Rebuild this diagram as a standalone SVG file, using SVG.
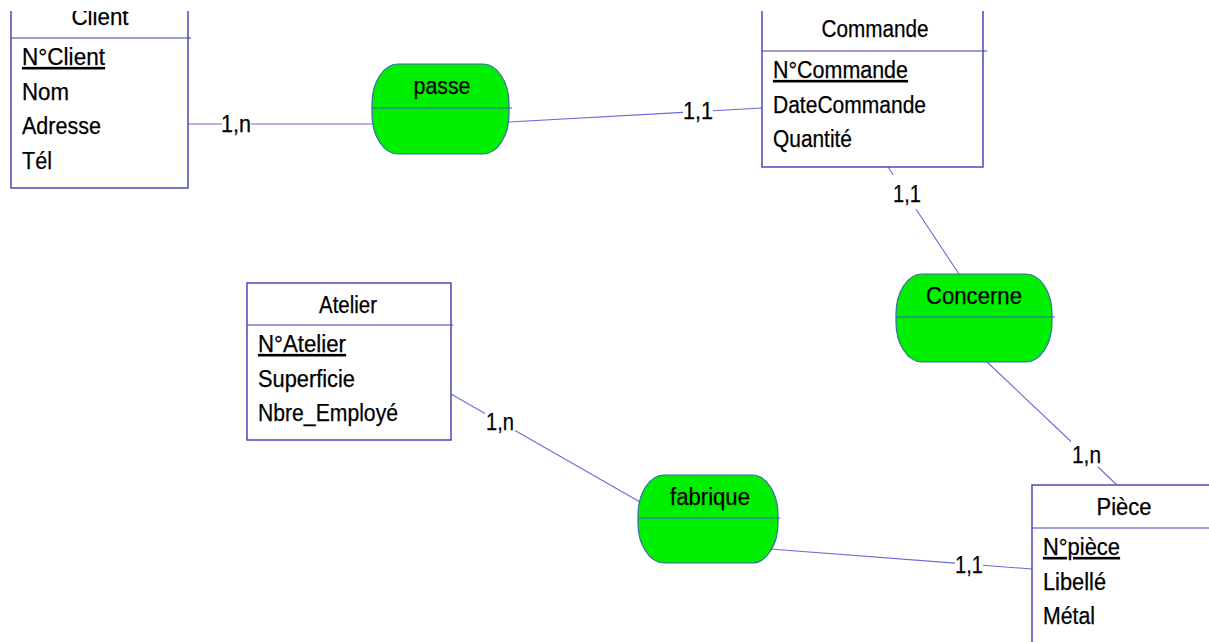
<svg xmlns="http://www.w3.org/2000/svg" width="1209" height="642" viewBox="0 0 1209 642">
<defs>
<clipPath id="view"><rect x="0" y="11" width="1209" height="631"/></clipPath>
<style>
text{font-family:"Liberation Sans",Arial,sans-serif;font-size:23px;fill:#000;stroke:#000;stroke-width:0.25}
.t{text-anchor:middle}
.k{text-decoration:underline}
.box{fill:#fff;stroke:#3d3db5;stroke-width:1.4}
.sep{stroke:#3d3db5;stroke-width:1.2}
.rel{fill:#00ee00;stroke:#3a6aa8;stroke-width:1.2}
.mid{stroke:#3d5fb8;stroke-width:1.2}
.cn{fill:none;stroke:#6a6ad8;stroke-width:1.1}
</style>
</defs>
<rect width="1209" height="642" fill="#fff"/>
<g clip-path="url(#view)">
<g id="connectors">
<path class="cn" d="M188,124 L222,124 M251,124 L372,124"/>
<text x="221" y="132" textLength="30" lengthAdjust="spacingAndGlyphs">1,n</text>
<path class="cn" d="M509,122 L683,112.4 M713,110.7 L762,108"/>
<text x="683" y="119" textLength="30" lengthAdjust="spacingAndGlyphs">1,1</text>
<path class="cn" d="M888,167 L893.3,175 M915.9,209 L959,274"/>
<text x="893" y="202" textLength="28" lengthAdjust="spacingAndGlyphs">1,1</text>
<path class="cn" d="M987,362 L1071,441.5 M1098,467 L1117,485"/>
<text x="1072" y="463" textLength="29" lengthAdjust="spacingAndGlyphs">1,n</text>
<path class="cn" d="M451,394 L485,413.4 M515,430.6 L640,502"/>
<text x="486" y="430" textLength="28" lengthAdjust="spacingAndGlyphs">1,n</text>
<path class="cn" d="M770,549 L955,563.1 M983,565.3 L1032,569"/>
<text x="955" y="573" textLength="28" lengthAdjust="spacingAndGlyphs">1,1</text>
</g>
<g id="client">
<rect class="box" x="11" y="-5" width="177" height="193"/>
<line class="sep" x1="11" y1="38" x2="191" y2="38"/>
<text class="t" x="100" y="25" textLength="57" lengthAdjust="spacingAndGlyphs">Client</text>
<text class="k" x="22" y="65" textLength="83" lengthAdjust="spacingAndGlyphs">N°Client</text>
<text x="22" y="99.5" textLength="47" lengthAdjust="spacingAndGlyphs">Nom</text>
<text x="22" y="134" textLength="79" lengthAdjust="spacingAndGlyphs">Adresse</text>
<text x="22" y="168.5" textLength="30" lengthAdjust="spacingAndGlyphs">Tél</text>
</g>
<g id="commande">
<rect class="box" x="762" y="8" width="221" height="159"/>
<line class="sep" x1="762" y1="51" x2="987" y2="51"/>
<text class="t" x="875" y="37" textLength="107" lengthAdjust="spacingAndGlyphs">Commande</text>
<text class="k" x="773" y="78" textLength="135" lengthAdjust="spacingAndGlyphs">N°Commande</text>
<text x="773" y="112.5" textLength="153" lengthAdjust="spacingAndGlyphs">DateCommande</text>
<text x="773" y="147" textLength="79" lengthAdjust="spacingAndGlyphs">Quantité</text>
</g>
<g id="atelier">
<rect class="box" x="247" y="283" width="204" height="157"/>
<line class="sep" x1="247" y1="325" x2="453" y2="325"/>
<text class="t" x="348" y="313" textLength="58" lengthAdjust="spacingAndGlyphs">Atelier</text>
<text class="k" x="258" y="352" textLength="88" lengthAdjust="spacingAndGlyphs">N°Atelier</text>
<text x="258" y="386.5" textLength="97" lengthAdjust="spacingAndGlyphs">Superficie</text>
<text x="258" y="421" textLength="140" lengthAdjust="spacingAndGlyphs">Nbre_Employé</text>
</g>
<g id="piece">
<rect class="box" x="1032" y="485" width="184" height="170"/>
<line class="sep" x1="1032" y1="528" x2="1219" y2="528"/>
<text class="t" x="1124" y="515" textLength="55" lengthAdjust="spacingAndGlyphs">Pièce</text>
<text class="k" x="1043" y="555" textLength="77" lengthAdjust="spacingAndGlyphs">N°pièce</text>
<text x="1043" y="589.5" textLength="63" lengthAdjust="spacingAndGlyphs">Libellé</text>
<text x="1043" y="624" textLength="52" lengthAdjust="spacingAndGlyphs">Métal</text>
</g>
<g id="passe">
<rect class="rel" x="372" y="64" width="137" height="90" rx="26" ry="40"/>
<line class="mid" x1="372" y1="108" x2="512" y2="108"/>
<text class="t" x="442" y="94" textLength="57" lengthAdjust="spacingAndGlyphs">passe</text>
</g>
<g id="concerne">
<rect class="rel" x="896" y="274" width="156" height="88" rx="26" ry="40"/>
<line class="mid" x1="896" y1="317" x2="1055" y2="317"/>
<text class="t" x="974" y="304" textLength="96" lengthAdjust="spacingAndGlyphs">Concerne</text>
</g>
<g id="fabrique">
<rect class="rel" x="638" y="475" width="140" height="88" rx="26" ry="40"/>
<line class="mid" x1="638" y1="518" x2="780" y2="518"/>
<text class="t" x="710" y="505" textLength="80" lengthAdjust="spacingAndGlyphs">fabrique</text>
</g>
</g>
</svg>
